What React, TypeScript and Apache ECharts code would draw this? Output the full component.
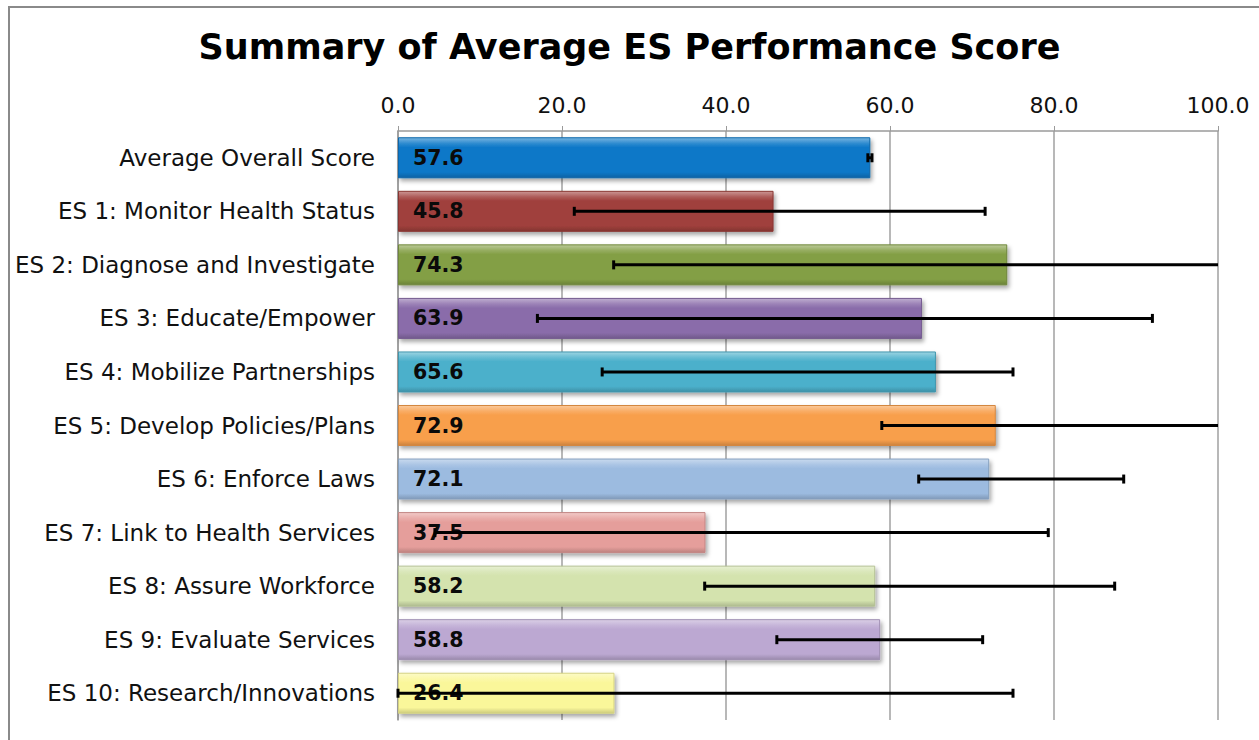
import React, { useEffect, useRef } from "react";
import * as echarts from "echarts";

const chartTitle = "Summary of Average ES Performance Score";

const categories = [
  "Average Overall Score",
  "ES 1: Monitor Health Status",
  "ES 2: Diagnose and Investigate",
  "ES 3: Educate/Empower",
  "ES 4: Mobilize Partnerships",
  "ES 5: Develop Policies/Plans",
  "ES 6: Enforce Laws",
  "ES 7: Link to Health Services",
  "ES 8: Assure Workforce",
  "ES 9: Evaluate Services",
  "ES 10: Research/Innovations",
];

const scores = [57.6, 45.8, 74.3, 63.9, 65.6, 72.9, 72.1, 37.5, 58.2, 58.8, 26.4];

// error range (low / high); values above 100 run past the axis end
const rangeLow = [57.3, 21.5, 26.3, 17.0, 24.9, 59.0, 63.5, 4.5, 37.4, 46.2, 0.0];
const rangeHigh = [57.8, 71.6, 101, 92.0, 75.0, 101, 88.5, 79.3, 87.4, 71.3, 75.0];

const barColors = [
  "#0A78C8",
  "#A0403C",
  "#839F45",
  "#8A6CAA",
  "#4BB0CB",
  "#F89F4B",
  "#9CBBE0",
  "#E59E9B",
  "#D4E3AE",
  "#BCA8D2",
  "#FAF79A",
];

const axisMin = 0;
const axisMax = 100;
const axisInterval = 20;

function mix(hex: string, target: string, t: number): string {
  const p = (h: string) => {
    const s = h.replace("#", "");
    return [0, 2, 4].map((i) => parseInt(s.slice(i, i + 2), 16));
  };
  const a = p(hex);
  const b = p(target);
  const r = a.map((v, i) => Math.round(v + (b[i] - v) * t));
  return "#" + r.map((v) => v.toString(16).padStart(2, "0")).join("");
}

export default function App() {
  const ref = useRef<HTMLDivElement>(null);

  useEffect(() => {
    if (!ref.current) return;
    const chart = echarts.init(ref.current, null, { renderer: "svg" });

    const barData = scores.map((v, i) => {
      const c = barColors[i];
      return {
        value: v,
        itemStyle: {
          color: new echarts.graphic.LinearGradient(0, 0, 0, 1, [
            { offset: 0, color: mix(c, "#ffffff", 0.45) },
            { offset: 0.14, color: mix(c, "#ffffff", 0.15) },
            { offset: 0.24, color: c },
            { offset: 0.86, color: c },
            { offset: 1, color: mix(c, "#000000", 0.18) },
          ]),
          borderColor: mix(c, "#000000", 0.15),
          borderWidth: 1,
          shadowBlur: 4,
          shadowOffsetX: 2,
          shadowOffsetY: 3,
          shadowColor: "rgba(0,0,0,0.35)",
        },
      };
    });

    const errData = scores.map((_, i) => [i, rangeLow[i], rangeHigh[i]]);

    chart.setOption({
      animation: false,
      backgroundColor: "#ffffff",
      title: {
        text: chartTitle,
        left: "center",
        top: 24,
        textStyle: {
          fontFamily: "DejaVu Sans",
          fontWeight: "bold",
          fontSize: 35,
          color: "#000000",
        },
      },
      grid: { left: 398, right: 41, top: 131, bottom: 20, containLabel: false },
      xAxis: {
        type: "value",
        position: "top",
        min: axisMin,
        max: axisMax,
        interval: axisInterval,
        axisLine: { show: true, lineStyle: { color: "#9A9A9A", width: 1.5 } },
        axisTick: { show: true, length: 5, lineStyle: { color: "#9A9A9A" } },
        axisLabel: {
          margin: 15,
          fontFamily: "DejaVu Sans",
          fontSize: 22,
          color: "#111111",
          formatter: (v: number) => v.toFixed(1),
        },
        splitLine: { show: true, lineStyle: { color: "#A0A0A0", width: 1.5 } },
      },
      yAxis: {
        type: "category",
        inverse: true,
        data: categories,
        axisLine: { show: true, lineStyle: { color: "#9A9A9A", width: 1.5 } },
        axisTick: { show: false },
        axisLabel: {
          margin: 23,
          fontFamily: "DejaVu Sans",
          fontSize: 23,
          color: "#111111",
        },
      },
      series: [
        {
          type: "bar",
          data: barData,
          barWidth: 41,
          label: {
            show: true,
            position: "insideLeft",
            distance: 15,
            fontFamily: "DejaVu Sans",
            fontWeight: "bold",
            fontSize: 20.5,
            color: "#0A0A0A",
            formatter: (p: any) => Number(p.value).toFixed(1),
          },
          z: 2,
        },
        {
          type: "custom",
          z: 5,
          data: errData,
          renderItem: (params: any, api: any) => {
            const idx = api.value(0);
            const lo = api.value(1);
            const hi = api.value(2);
            const cs = params.coordSys;
            const pLo = api.coord([lo, idx]);
            const pHi = api.coord([hi, idx]);
            const xMin = cs.x;
            const xMax = cs.x + cs.width;
            const x1 = Math.max(xMin, Math.min(xMax, pLo[0]));
            const x2 = Math.max(xMin, Math.min(xMax, pHi[0]));
            const y = pLo[1];
            const cap = 4.5;
            const style = { stroke: "#000000", lineWidth: 3 };
            const children: any[] = [
              { type: "line", shape: { x1, y1: y, x2, y2: y }, style },
            ];
            if (lo >= axisMin && lo <= axisMax) {
              children.push({
                type: "line",
                shape: { x1: pLo[0], y1: y - cap, x2: pLo[0], y2: y + cap },
                style,
              });
            }
            if (hi >= axisMin && hi <= axisMax) {
              children.push({
                type: "line",
                shape: { x1: pHi[0], y1: y - cap, x2: pHi[0], y2: y + cap },
                style,
              });
            }
            return { type: "group", children };
          },
        },
      ],
      graphic: [
        {
          type: "line",
          shape: { x1: 8, y1: 7, x2: 1259, y2: 7 },
          style: { stroke: "#8A8A8A", lineWidth: 2 },
        },
        {
          type: "line",
          shape: { x1: 9, y1: 7, x2: 9, y2: 740 },
          style: { stroke: "#8A8A8A", lineWidth: 2 },
        },
      ],
    });

    return () => chart.dispose();
  }, []);

  return (
    <div
      ref={ref}
      style={{ position: "absolute", left: 0, top: 0, width: 1259, height: 740 }}
    />
  );
}
